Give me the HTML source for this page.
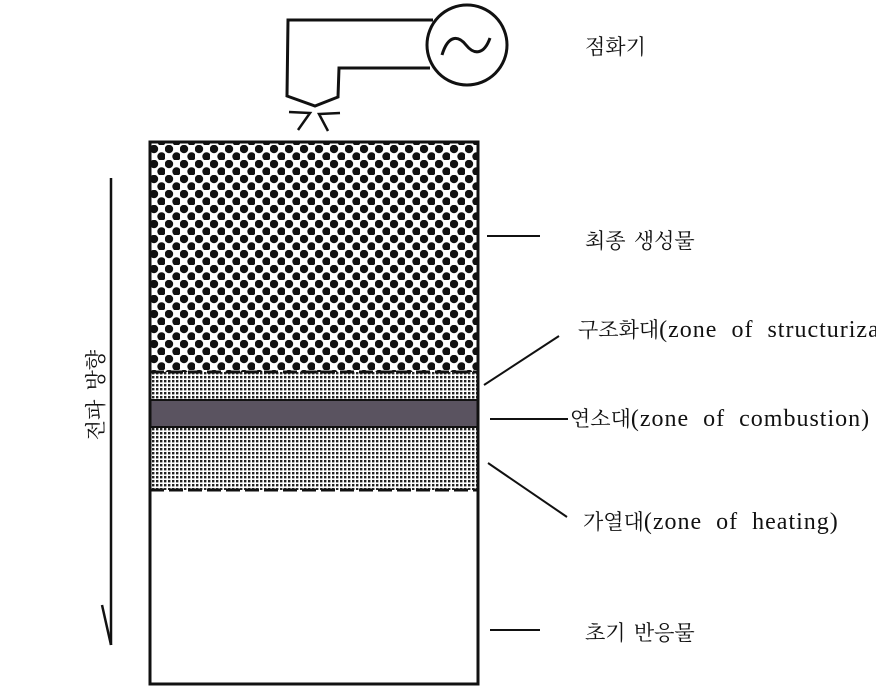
<!DOCTYPE html>
<html><head><meta charset="utf-8"><style>
html,body{margin:0;padding:0;background:#fff;}
svg{display:block;}
text{font-family:"Liberation Serif","Noto Serif CJK SC","Noto Sans CJK KR",serif;font-size:21px;fill:#111;}
tspan.l{font-size:24px;word-spacing:7px;letter-spacing:1px;}
</style></head><body>
<svg width="876" height="698" viewBox="0 0 876 698" xmlns="http://www.w3.org/2000/svg">
<defs>
<pattern id="big" x="150" y="145" width="15" height="15" patternUnits="userSpaceOnUse">
<circle cx="4" cy="4" r="4.2" fill="#111"/>
<circle cx="11.5" cy="11.5" r="4.2" fill="#111"/>
</pattern>
<pattern id="fine" x="0" y="0" width="4" height="4" patternUnits="userSpaceOnUse">
<rect width="4" height="4" fill="#fff"/>
<rect x="0" y="0" width="2.4" height="2.4" fill="#222"/>
</pattern>
</defs>
<polyline points="433,20 288,20 287,96 315,106 338,97 339,68 430,68" fill="none" stroke="#111" stroke-width="3"/>
<circle cx="467" cy="45" r="40" fill="#fff" stroke="#111" stroke-width="3"/>
<path d="M442,55 C448,35 458,35 466,45 C474,55 484,55 490,38" fill="none" stroke="#111" stroke-width="3"/>
<polyline points="289,112 310,113 298,130" fill="none" stroke="#111" stroke-width="2.5"/>
<polyline points="340,113 319,114 328,131" fill="none" stroke="#111" stroke-width="2.5"/>
<rect x="150" y="142" width="328" height="230" fill="url(#big)"/>
<rect x="150" y="372" width="328" height="28" fill="url(#fine)"/>
<rect x="150" y="400" width="328" height="27" fill="#5a5360"/>
<rect x="150" y="427" width="328" height="63" fill="url(#fine)"/>
<line x1="150" y1="372" x2="478" y2="372" stroke="#111" stroke-width="3" stroke-dasharray="14,5"/>
<line x1="150" y1="490" x2="478" y2="490" stroke="#111" stroke-width="3" stroke-dasharray="14,5"/>
<line x1="150" y1="400" x2="478" y2="400" stroke="#111" stroke-width="2"/>
<line x1="150" y1="427" x2="478" y2="427" stroke="#111" stroke-width="2"/>
<rect x="150" y="142" width="328" height="542" fill="none" stroke="#111" stroke-width="3"/>
<line x1="111" y1="178" x2="111" y2="645" stroke="#111" stroke-width="2.5"/>
<line x1="102" y1="605" x2="111" y2="645" stroke="#111" stroke-width="2.5"/>
<text transform="translate(103,395) rotate(-90)" text-anchor="middle" style="word-spacing:4px">전파 방향</text>
<line x1="487" y1="236" x2="540" y2="236" stroke="#111" stroke-width="2"/>
<line x1="484" y1="385" x2="559" y2="336" stroke="#111" stroke-width="2"/>
<line x1="490" y1="419" x2="568" y2="419" stroke="#111" stroke-width="2"/>
<line x1="488" y1="463" x2="567" y2="517" stroke="#111" stroke-width="2"/>
<line x1="490" y1="630" x2="540" y2="630" stroke="#111" stroke-width="2"/>
<text x="585" y="54">점화기</text>
<text x="585" y="248" style="word-spacing:3px">최종 생성물</text>
<text x="578" y="337">구조화대<tspan class="l">(zone of structurization)</tspan></text>
<text x="570" y="426">연소대<tspan class="l">(zone of combustion)</tspan></text>
<text x="583" y="529">가열대<tspan class="l">(zone of heating)</tspan></text>
<text x="585" y="640" style="word-spacing:3px">초기 반응물</text>
</svg>
</body></html>
